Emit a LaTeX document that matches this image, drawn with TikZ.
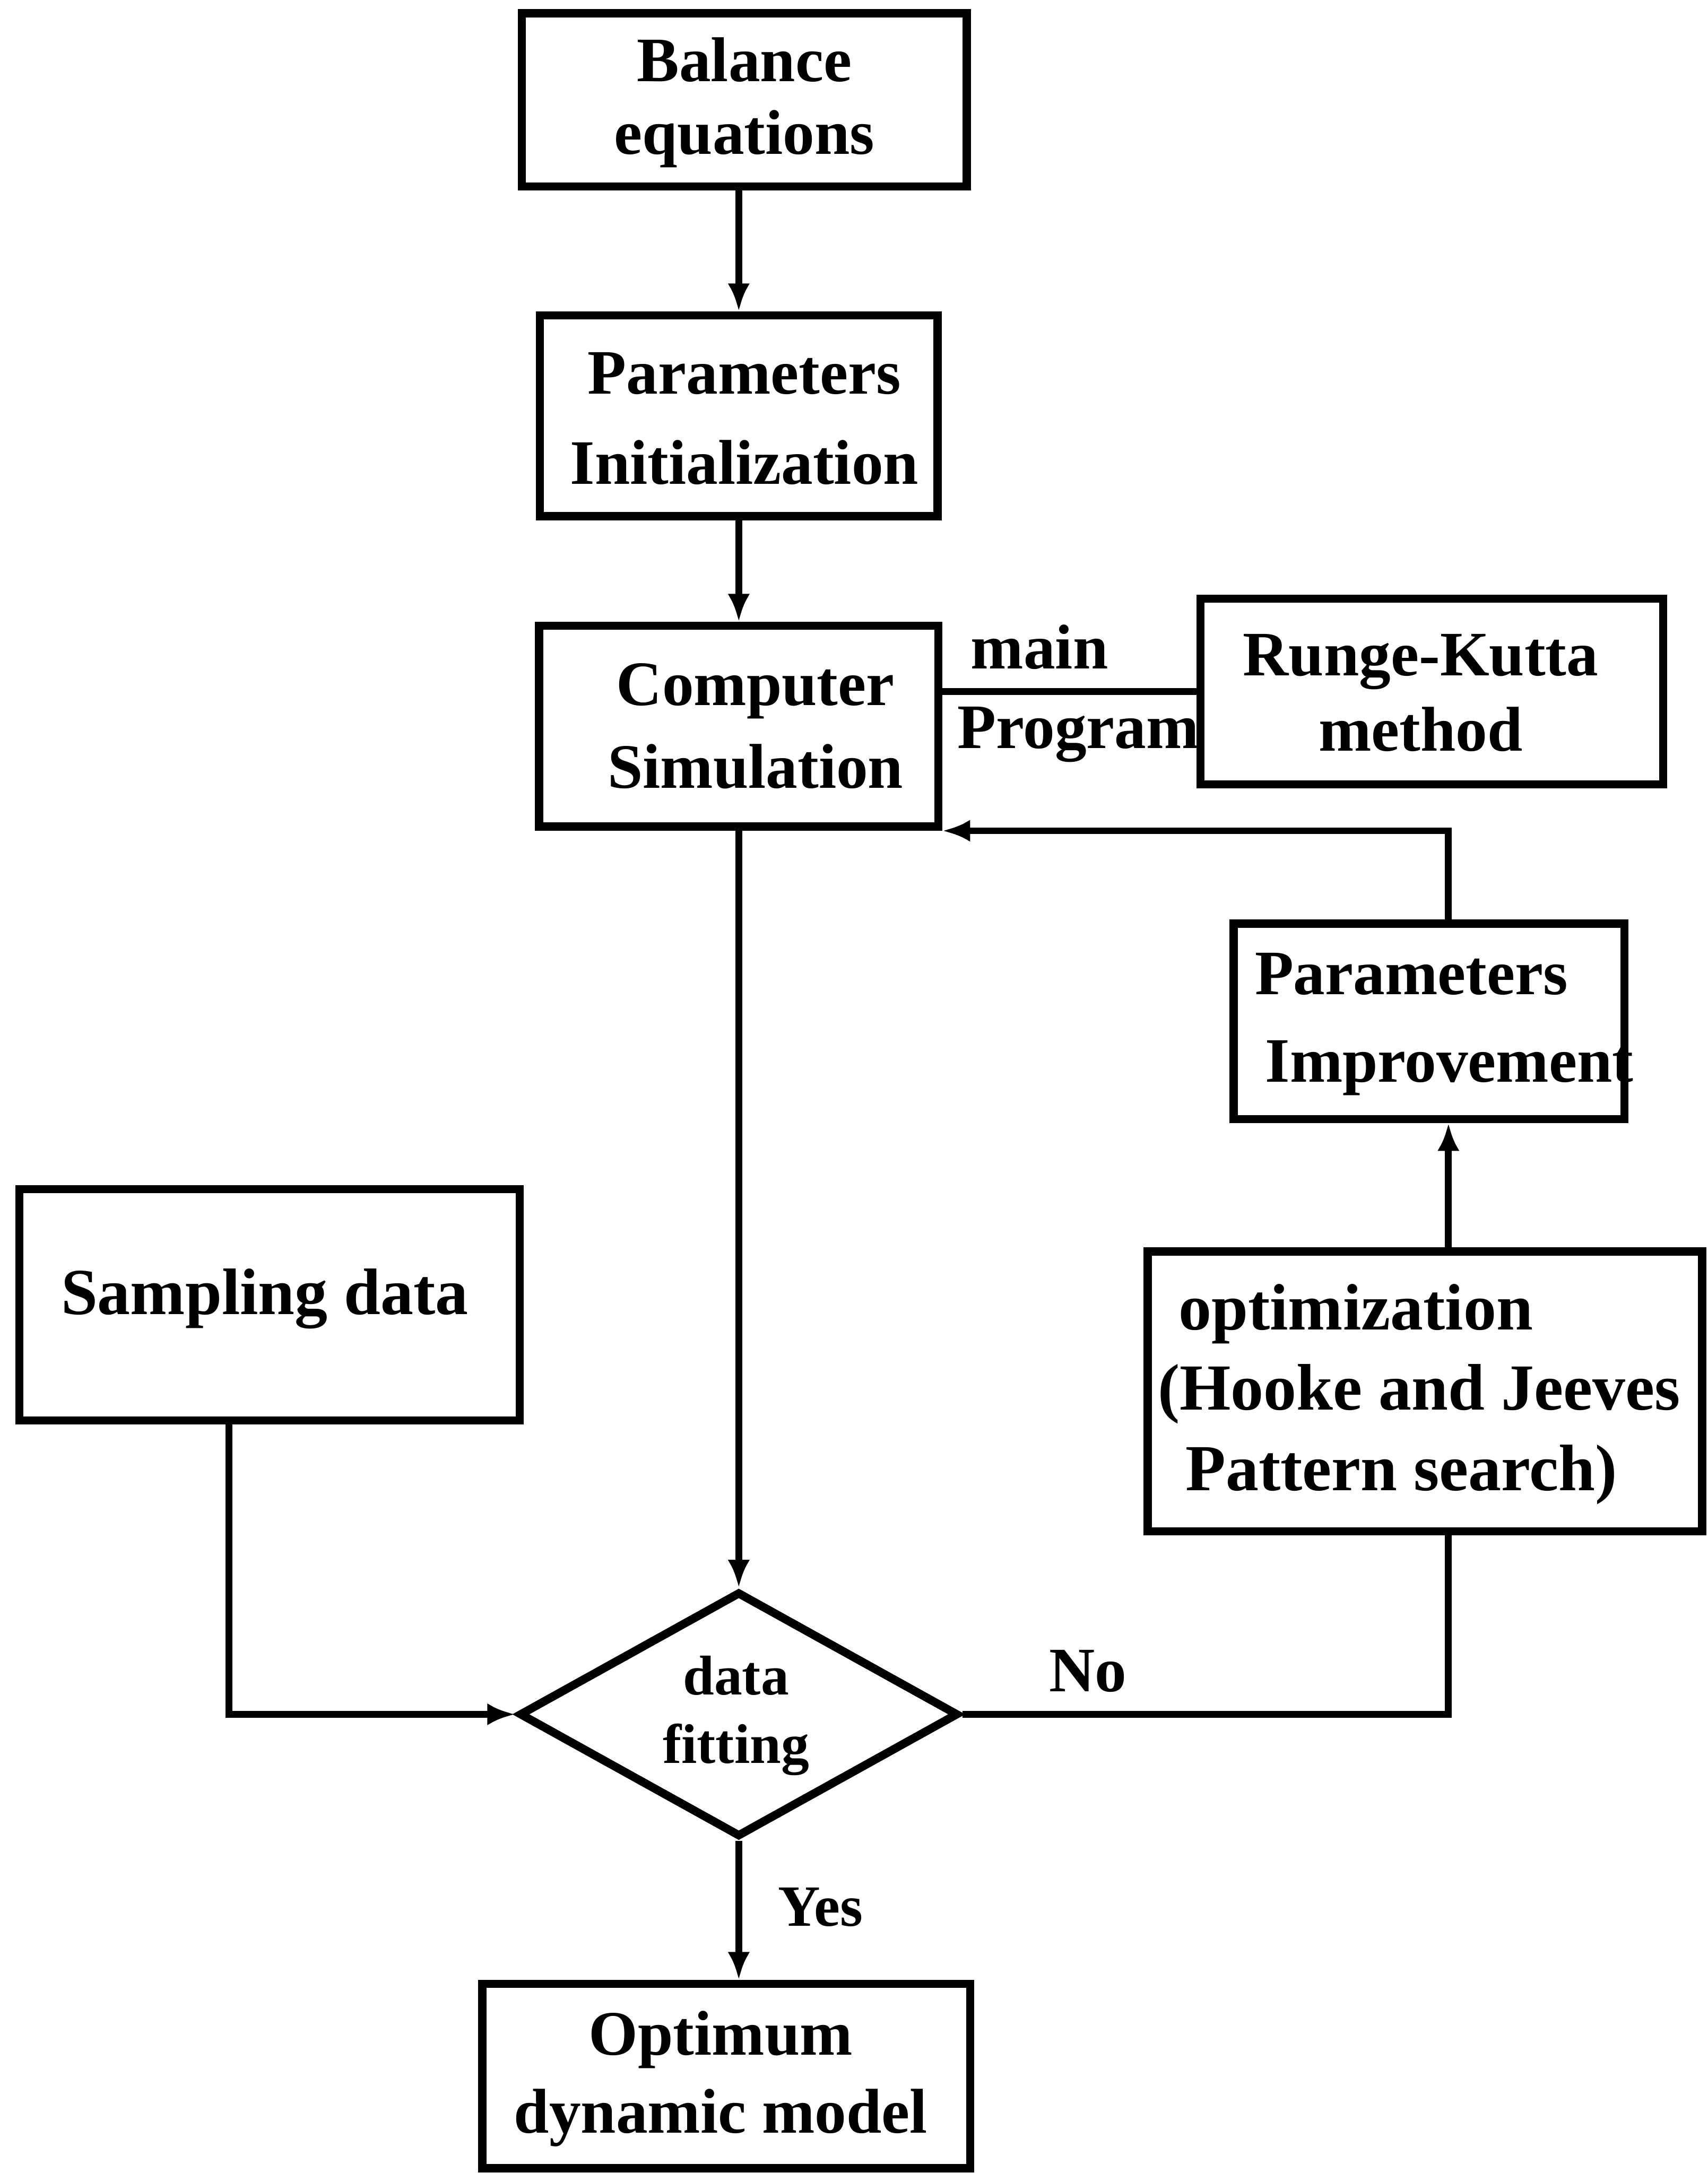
\documentclass[tikz,border=0pt]{standalone}
\usepackage{fontspec}
\setmainfont{Liberation Serif}
\usetikzlibrary{shapes.geometric,arrows.meta,calc}
\begin{document}
\begin{tikzpicture}[x=0.02cm,y=-0.02cm,
  box/.style={draw,line width=3.4pt,rectangle,inner sep=0pt},
  txt/.style={font=\bfseries\fontsize{26}{34}\selectfont,align=center,inner sep=0pt},
  conn/.style={line width=2.8pt},
  arr/.style={conn,-{Latex[length=0.4cm,width=0.32cm]}},
]
\useasboundingbox (0,0) rectangle (1232,1568);

% boxes
\node[box,minimum width=6.42cm,minimum height=2.5cm] (bal) at (537,72) {};
\node[box,minimum width=5.74cm,minimum height=2.9cm] (pinit) at (533,300) {};
\node[box,minimum width=5.76cm,minimum height=2.9cm] (cs) at (533,524) {};
\node[box,minimum width=6.68cm,minimum height=2.68cm] (rk) at (1033,499) {};
\node[box,minimum width=5.64cm,minimum height=2.82cm] (pimp) at (1031,737) {};
\node[box,minimum width=8.0cm,minimum height=4.04cm] (opt) at (1028,1004) {};
\node[box,minimum width=7.22cm,minimum height=3.34cm] (samp) at (194.5,941.5) {};
\node[box,diamond,minimum width=6.34cm,minimum height=3.54cm] (dia) at (533,1237) {};
\node[box,minimum width=7.04cm,minimum height=2.66cm] (optm) at (524,1498) {};

% texts
\node[txt,font=\bfseries\fontsize{26}{30}\selectfont] (bal-t) at (537,74) {Balance\\equations};
\node[txt,font=\bfseries\fontsize{26}{37}\selectfont] (pinit-t) at (537,302) {Parameters\\Initialization};
\node[txt] (cs-t) at (545,524) {Computer\\Simulation};
\node[txt,font=\bfseries\fontsize{26}{31}\selectfont] (rk-t) at (1025,500) {Runge-Kutta\\method};
\node[txt,align=left,anchor=west,font=\bfseries\fontsize{26}{36}\selectfont] (pimp-t) at (905,739) {Parameters\\\hspace{0.15cm}Improvement};
\node[txt,align=left,anchor=west,font=\bfseries\fontsize{27}{33}\selectfont] (opt-t) at (835,1006) {\hspace{0.3cm}optimization\\(Hooke and Jeeves\\\hspace{0.4cm}Pattern search)};
\node[txt,font=\bfseries\fontsize{27}{34}\selectfont] (samp-t) at (191,937) {Sampling data};
\node[txt,font=\bfseries\fontsize{23}{28}\selectfont] (dia-t) at (531,1238) {data\\fitting};
\node[txt,font=\bfseries\fontsize{26}{32}\selectfont] (optm-t) at (520,1500) {Optimum\\dynamic model};

% connector labels
\node[txt] (lmain) at (750,467) {main};
\node[txt] (lprog) at (778,530) {Program};
\node[txt] (lno) at (785,1206) {No};
\node[txt,font=\bfseries\fontsize{24}{30}\selectfont] (lyes) at (592,1376) {Yes};

% connectors
\coordinate (riser) at (1045,0);
\draw[arr] (pinit.north |- bal.south) -- (pinit.north);
\draw[arr] (pinit) -- (cs);
\draw[conn] (rk.west) -- (rk.west -| cs.east);
\draw[arr] (cs) -- (dia);
\draw[arr] ($(samp.south west)!0.42!(samp.south east)$) |- (dia.west);
\draw[conn] (dia.east) -| (opt.south -| riser);
\draw[arr] (opt.north -| riser) -- (pimp.south -| riser);
\draw[arr] (pimp.north -| riser) |- (cs.south east);
\draw[arr] (dia.south) -- (dia.south |- optm.north);
\end{tikzpicture}
\end{document}
